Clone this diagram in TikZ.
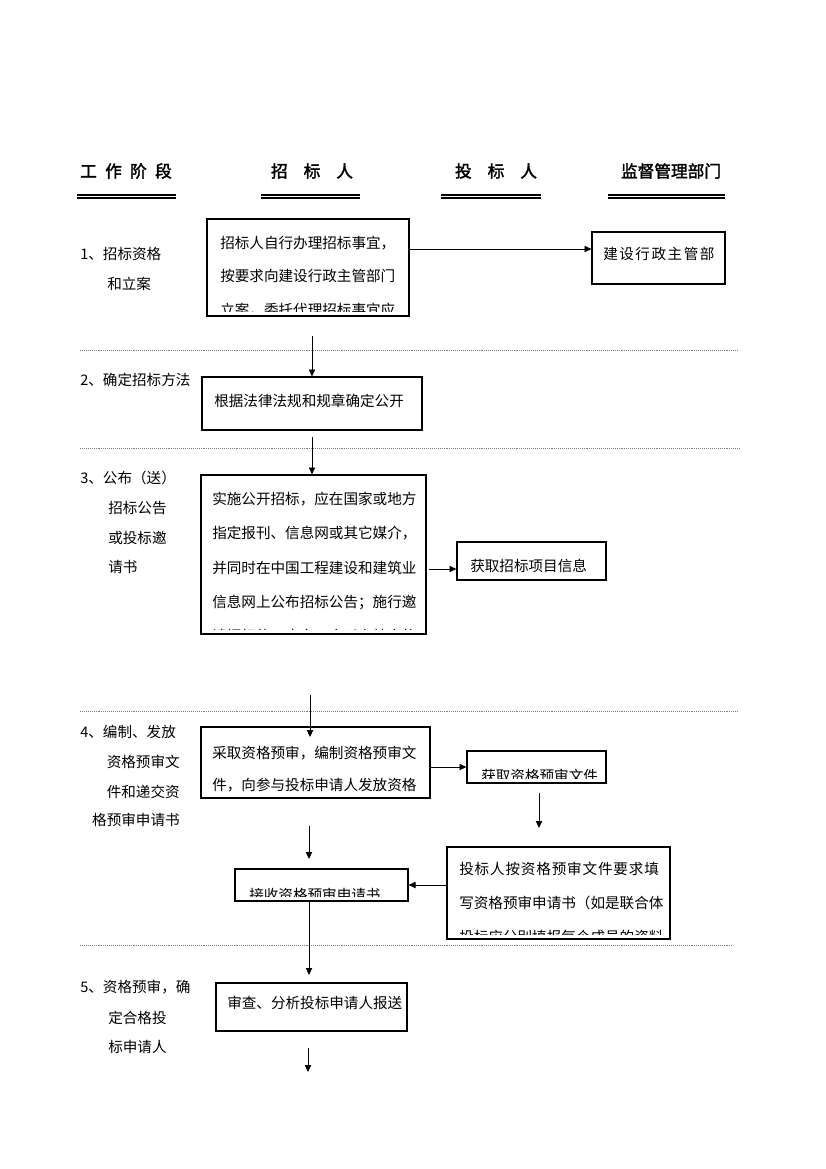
\documentclass[tikz,border=0pt]{standalone}
\usepackage{fontspec}
\usetikzlibrary{arrows.meta,fit,positioning}
\newfontfamily\cjk{Noto Sans CJK SC}
\newfontfamily\cjkhead[FakeBold=2]{Noto Sans CJK SC}

\tikzset{
    box/.style={draw, line width=0.8pt, inner sep=0pt},
    txt/.style={font=\cjk\fontsize{10.5pt}{12pt}\selectfont, inner sep=0pt},
    lab/.style={font=\cjk\fontsize{10.5pt}{12pt}\selectfont, inner sep=0pt},
    head/.style={font=\cjkhead\fontsize{12pt}{14pt}\selectfont, inner sep=0pt},
    headline/.style={line width=1.1pt},
    sep/.style={gray, line width=0.6pt, dash pattern=on 0.6pt off 0.8pt},
    arr/.style={-{Triangle[length=5pt,width=4.5pt]}, line width=0.7pt},
}

% text of a box, cut off a little above its lower edge
\newcommand{\boxtext}[5]{%
    \begin{scope}
        \clip (#1.north west) rectangle ([yshift=3.6pt]#1.south east);
        \node[txt, anchor=base west] (#1t) at (#2,#3) {\vtop{\baselineskip=#4\relax\lineskiplimit=-20pt\relax #5}};
    \end{scope}}

\begin{document}
\begin{tikzpicture}[x=0.72pt, y=-0.72pt]
    \useasboundingbox (0,0) rectangle (826,1169);

    % column heads
    \node[head] (h1) at (126,171) {工\hspace{6pt}作\hspace{6pt}阶\hspace{6pt}段};
    \node[head] (h2) at (312,171) {招\hspace{11.5pt}标\hspace{11.5pt}人};
    \node[head] (h3) at (496,171) {投\hspace{11.5pt}标\hspace{11.5pt}人};
    \node[head] (h4) at (671,171) {监督管理部门};
    \foreach \xa/\xb in {77/176, 261/360, 441/541, 608/725}{
        \draw[headline] (\xa,194.8) -- (\xb,194.8);
        \draw[headline] (\xa,198.2) -- (\xb,198.2);
    }

    % stage separators
    \foreach \y/\xb in {350/738, 448/741, 711/738, 945/733}{
        \draw[sep] (80,\y) -- (\xb,\y);
    }

    % stage labels
    \node[lab, anchor=west] (l1a) at (80,254) {1、招标资格};
    \node[lab, anchor=west] (l1b) at (107,284) {和立案};
    \node[lab, anchor=west] (l2) at (80,380) {2、确定招标方法};
    \node[lab, anchor=west] (l3a) at (80,478) {3、公布（送）};
    \node[lab, anchor=west] (l3b) at (108,508) {招标公告};
    \node[lab, anchor=west] (l3c) at (108,538) {或投标邀};
    \node[lab, anchor=west] (l3d) at (108,567) {请书};
    \node[lab, anchor=west] (l4a) at (80,732) {4、编制、发放};
    \node[lab, anchor=east] (l4b) at (180,762) {资格预审文};
    \node[lab, anchor=east] (l4c) at (180,792) {件和递交资};
    \node[lab, anchor=east] (l4d) at (180,820) {格预审申请书};
    \node[lab, anchor=west] (l5a) at (80,987) {5、资格预审，确};
    \node[lab, anchor=west] (l5b) at (108,1018) {定合格投};
    \node[lab, anchor=west] (l5c) at (108,1047) {标申请人};

    % boxes
    \node[box, fit={(207,219) (409,316)}] (b1) {};
    \node[box, fit={(592,232) (725,284)}] (gov) {};
    \node[box, fit={(202,377) (422,430)}] (b2) {};
    \node[box, fit={(201,475) (426,634)}] (b3) {};
    \node[box, fit={(457,542) (606,580)}] (info) {};
    \node[box, fit={(201,727) (430,798)}] (b4) {};
    \node[box, fit={(467,751) (606,783)}] (doc) {};
    \node[box, fit={(447,847) (670,939)}] (fill) {};
    \node[box, fit={(235,869) (408,901)}] (recv) {};
    \node[box, fit={(216,983) (407,1031)}] (b5) {};

    \boxtext{b1}{220}{248.5}{24pt}{\hbox{招标人自行办理招标事宜，}\hbox{按要求向建设行政主管部门}\hbox{立案，委托代理招标事宜应}}
    \boxtext{gov}{603}{259.5}{24pt}{\hbox{建\kern1.1pt 设\kern1.1pt 行\kern1.1pt 政\kern1.1pt 主\kern1.1pt 管\kern1.1pt 部}}
    \boxtext{b2}{214}{406.5}{24pt}{\hbox{根据法律法规和规章确定公开}}
    \boxtext{b3}{212}{504.5}{24.7pt}{\hbox{实施公开招标，应在国家或地方}\hbox{指定报刊、信息网或其它媒介，}\hbox{并同时在中国工程建设和建筑业}\hbox{信息网上公布招标公告；施行邀}\hbox{请招标的，应向三个以上特定的}}
    \boxtext{info}{470}{571.5}{24pt}{\hbox{获取招标项目信息}}
    \boxtext{b4}{212}{758.5}{23pt}{\hbox{采取资格预审，编制资格预审文}\hbox{件，向参与投标申请人发放资格}}
    \boxtext{doc}{481}{781}{24pt}{\hbox{获取资格预审文件}}
    \boxtext{fill}{459}{874.5}{24.5pt}{\hbox{投\kern0.6pt 标\kern0.6pt 人\kern0.6pt 按\kern0.6pt 资\kern0.6pt 格\kern0.6pt 预\kern0.6pt 审\kern0.6pt 文\kern0.6pt 件\kern0.6pt 要\kern0.6pt 求\kern0.6pt 填}\hbox{写资格预审申请书（如是联合体}\hbox{投标应分别填报每个成员的资料}}
    \boxtext{recv}{249}{900}{24pt}{\hbox{接收资格预审申请书}}
    \boxtext{b5}{227}{1008.5}{24pt}{\hbox{审查、分析投标申请人报送}}

    % free ends of the arrows
    \coordinate (y1) at (0,249);
    \coordinate (s2) at (312,336);
    \coordinate (s3) at (312,437);
    \coordinate (s4) at (429,569);
    \coordinate (s5) at (310,695);
    \coordinate (e5) at (310,737);
    \coordinate (s7) at (539,793);
    \coordinate (e7) at (539,828);
    \coordinate (s8) at (309,826);
    \coordinate (e8) at (309,859);
    \coordinate (e10) at (309,975);
    \coordinate (s11) at (308,1048);
    \coordinate (e11) at (308,1072);

    % arrows
    \draw[arr] (b1.east |- y1) -- (gov.west |- y1);
    \draw[arr] (s2) -- (b2.north);
    \draw[arr] (s3) -- (s3 |- b3.north);
    \draw[arr] (s4) -- (s4 -| info.west);
    \draw[arr] (s5) -- (e5);
    \draw[arr] (b4.east |- doc.west) -- (doc.west);
    \draw[arr] (s7) -- (e7);
    \draw[arr] (s8) -- (e8);
    \draw[arr] (fill.west |- recv.east) -- (recv.east);
    \draw[arr] (recv.south -| e10) -- (e10);
    \draw[arr] (s11) -- (e11);
\end{tikzpicture}
\end{document}
